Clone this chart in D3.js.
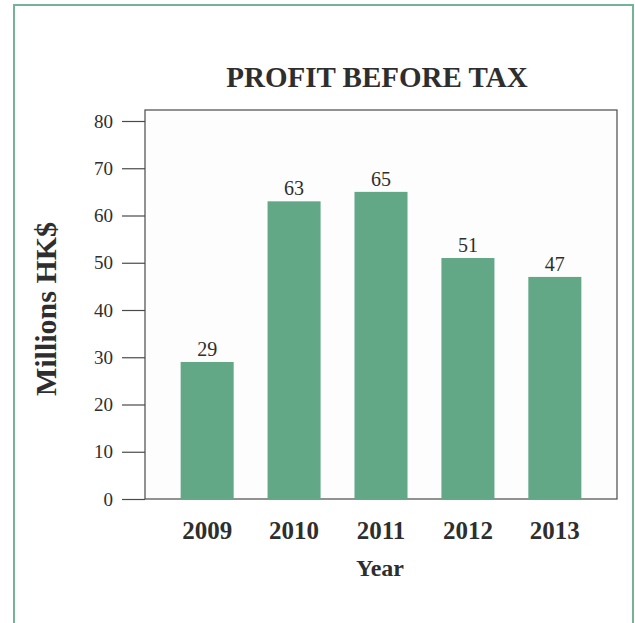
<!DOCTYPE html>
<html>
<head>
<meta charset="utf-8">
<script src="https://cdn.jsdelivr.net/npm/d3@7"></script>
<style>
  html, body { margin: 0; padding: 0; background: #ffffff; }
  svg { display: block; }
  text { font-family: "Liberation Serif", "Times New Roman", serif; fill: #2e2e2e; }
</style>
</head>
<body>
<svg id="chart" width="635" height="623"></svg>
<script>
// Profit before tax by year (millions HK$)
const years = ["2009", "2010", "2011", "2012", "2013"];
const profit = [29, 63, 65, 51, 47];
const yTicks = [0, 10, 20, 30, 40, 50, 60, 70, 80];

const svg = d3.select("#chart");

// outer frame
svg.append("rect")
  .attr("x", 14).attr("y", 5)
  .attr("width", 619).attr("height", 640)
  .attr("fill", "#ffffff")
  .attr("stroke", "#76b295").attr("stroke-width", 2);

const plot = { left: 145, right: 617, top: 110, bottom: 499 };

const x = d3.scaleBand()
  .domain(years)
  .range([plot.left, plot.right])
  .paddingInner(0.39)
  .paddingOuter(0.41);

const y = d3.scaleLinear()
  .domain([0, 80])
  .range([plot.bottom, 121]);

// plot frame
svg.append("rect")
  .attr("x", plot.left).attr("y", plot.top)
  .attr("width", plot.right - plot.left)
  .attr("height", plot.bottom - plot.top)
  .attr("fill", "#fcfdfc")
  .attr("stroke", "#4a4a4a").attr("stroke-width", 1.2);

// bars
svg.append("g").selectAll("rect")
  .data(years.map((yr, i) => ({ yr, v: profit[i] })))
  .join("rect")
  .attr("x", d => x(d.yr))
  .attr("y", d => y(d.v))
  .attr("width", x.bandwidth())
  .attr("height", d => y(0) - y(d.v))
  .attr("fill", "#62a786");

// value labels
svg.append("g").selectAll("text")
  .data(years.map((yr, i) => ({ yr, v: profit[i] })))
  .join("text")
  .attr("x", d => x(d.yr) + x.bandwidth() / 2)
  .attr("y", d => y(d.v) - 6)
  .attr("text-anchor", "middle")
  .attr("font-size", 20)
  .text(d => d.v);

// y axis
const yAxis = d3.axisLeft(y)
  .tickValues(yTicks)
  .tickSize(23)
  .tickPadding(9);

const gy = svg.append("g")
  .attr("transform", `translate(${plot.left},0)`)
  .call(yAxis);
gy.select(".domain").remove();
gy.selectAll(".tick line").attr("stroke", "#4a4a4a").attr("stroke-width", 1.2);
gy.selectAll(".tick text")
  .attr("font-family", "'Liberation Serif', serif")
  .attr("font-size", 19)
  .attr("fill", "#333");

// x axis labels
const xAxis = d3.axisBottom(x).tickSize(0).tickPadding(0);
const gx = svg.append("g")
  .attr("transform", `translate(0,${plot.bottom})`)
  .call(xAxis);
gx.select(".domain").remove();
gx.selectAll(".tick text")
  .attr("font-family", "'Liberation Serif', serif")
  .attr("font-size", 25)
  .attr("font-weight", "bold")
  .attr("fill", "#2e2e2e")
  .attr("dy", 0)
  .attr("y", 40);

// titles
svg.append("text")
  .attr("x", 377).attr("y", 87)
  .attr("text-anchor", "middle")
  .attr("font-size", 29)
  .attr("font-weight", "bold")
  .text("PROFIT BEFORE TAX");

svg.append("text")
  .attr("x", 380).attr("y", 576)
  .attr("text-anchor", "middle")
  .attr("font-size", 24)
  .attr("font-weight", "bold")
  .text("Year");

svg.append("text")
  .attr("transform", "translate(56,309) rotate(-90)")
  .attr("text-anchor", "middle")
  .attr("font-size", 30)
  .attr("font-weight", "bold")
  .text("Millions HK$");
</script>
</body>
</html>
